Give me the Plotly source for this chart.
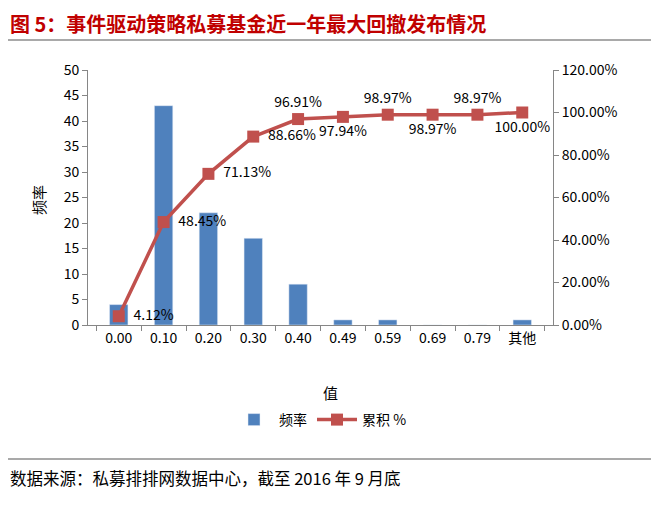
import plotly.graph_objects as go

categories = ["0.00", "0.10", "0.20", "0.30", "0.40", "0.49", "0.59", "0.69", "0.79", "其他"]
frequency = [4, 43, 22, 17, 8, 1, 1, 0, 0, 1]
cumulative = [0.0412, 0.4845, 0.7113, 0.8866, 0.9691, 0.9794, 0.9897, 0.9897, 0.9897, 1.0]
cum_labels = ["4.12%", "48.45%", "71.13%", "88.66%", "96.91%", "97.94%", "98.97%", "98.97%", "98.97%", "100.00%"]
label_pos = ["middle right", "middle right", "middle right", "middle right", "top center",
             "bottom center", "top center", "bottom center", "top center", "bottom center"]

FONT = "Noto Sans CJK SC"
BLUE = "#4F81BD"
RED = "#C0504D"

# pad right-side labels a little away from markers
texts = [("  " + t) if p == "middle right" else t for t, p in zip(cum_labels, label_pos)]

fig = go.Figure()
fig.add_trace(go.Bar(x=categories, y=frequency, name="频率", marker_color=BLUE,
                     width=0.41, yaxis="y"))
fig.add_trace(go.Scatter(x=categories, y=cumulative, name="累积 %", yaxis="y2",
                         mode="lines+markers+text", text=texts, textposition=label_pos,
                         textfont=dict(size=14, color="#000000", family=FONT),
                         line=dict(color=RED, width=3.5),
                         marker=dict(symbol="square", size=12, color=RED)))

# plot area: x 88..553, y 70..325
L, R, T, B = 88, 553, 70, 325
W, H = R - L, B - T
def px(x):
    return (x - L) / W
def py(y):
    return (B - y) / H

fig.update_layout(
    width=660, height=511,
    margin=dict(l=L, r=660 - R, t=T, b=511 - B, pad=0),
    paper_bgcolor="white", plot_bgcolor="white",
    font=dict(family=FONT, size=14, color="#000000"),
    bargap=0.59,
    xaxis=dict(type="category", showline=True, linecolor="#868686", linewidth=1,
               ticks="outside", ticklen=5, tickcolor="#868686", tickson="boundaries",
               tickfont=dict(size=14), showgrid=False, zeroline=False),
    yaxis=dict(range=[0, 50], dtick=5, showline=True, linecolor="#868686", linewidth=1,
               ticks="outside", ticklen=5, tickcolor="#868686", showgrid=False,
               zeroline=False, tickfont=dict(size=14)),
    yaxis2=dict(range=[0, 1.2], dtick=0.2, tickformat=".2%", overlaying="y", side="right",
                showline=True, linecolor="#868686", linewidth=1, ticks="outside", ticklen=5,
                tickcolor="#868686", showgrid=False, zeroline=False, tickfont=dict(size=14)),
    legend=dict(orientation="h", x=0.5, xanchor="center", y=py(420), yanchor="middle",
                font=dict(size=14), itemwidth=40, traceorder="normal"),
    showlegend=True,
    annotations=[
        dict(text="<b>图 5：事件驱动策略私募基金近一年最大回撤发布情况</b>", xref="paper", yref="paper",
             x=px(8), y=py(23), xanchor="left", yanchor="middle", showarrow=False,
             font=dict(size=20, color="#C00000", family=FONT)),
        dict(text="数据来源：私募排排网数据中心，截至 2016 年 9 月底", xref="paper", yref="paper",
             x=px(8), y=py(478), xanchor="left", yanchor="middle", showarrow=False,
             font=dict(size=16.5, color="#000000", family=FONT)),
        dict(text="频率", xref="paper", yref="paper", x=px(38), y=py(200), textangle=-90,
             xanchor="center", yanchor="middle", showarrow=False, font=dict(size=15)),
        dict(text="值", xref="paper", yref="paper", x=px(330), y=py(392),
             xanchor="center", yanchor="middle", showarrow=False, font=dict(size=15)),
    ],
    shapes=[
        dict(type="line", xref="paper", yref="paper", x0=px(8), x1=px(651), y0=py(40), y1=py(40),
             line=dict(color="#8C8C8C", width=1.5)),
        dict(type="line", xref="paper", yref="paper", x0=px(8), x1=px(651), y0=py(459), y1=py(459),
             line=dict(color="#8C8C8C", width=1.5)),
    ],
)

fig.write_html("out.html", config={"displayModeBar": False},
               post_script="document.body.style.margin='0';")
